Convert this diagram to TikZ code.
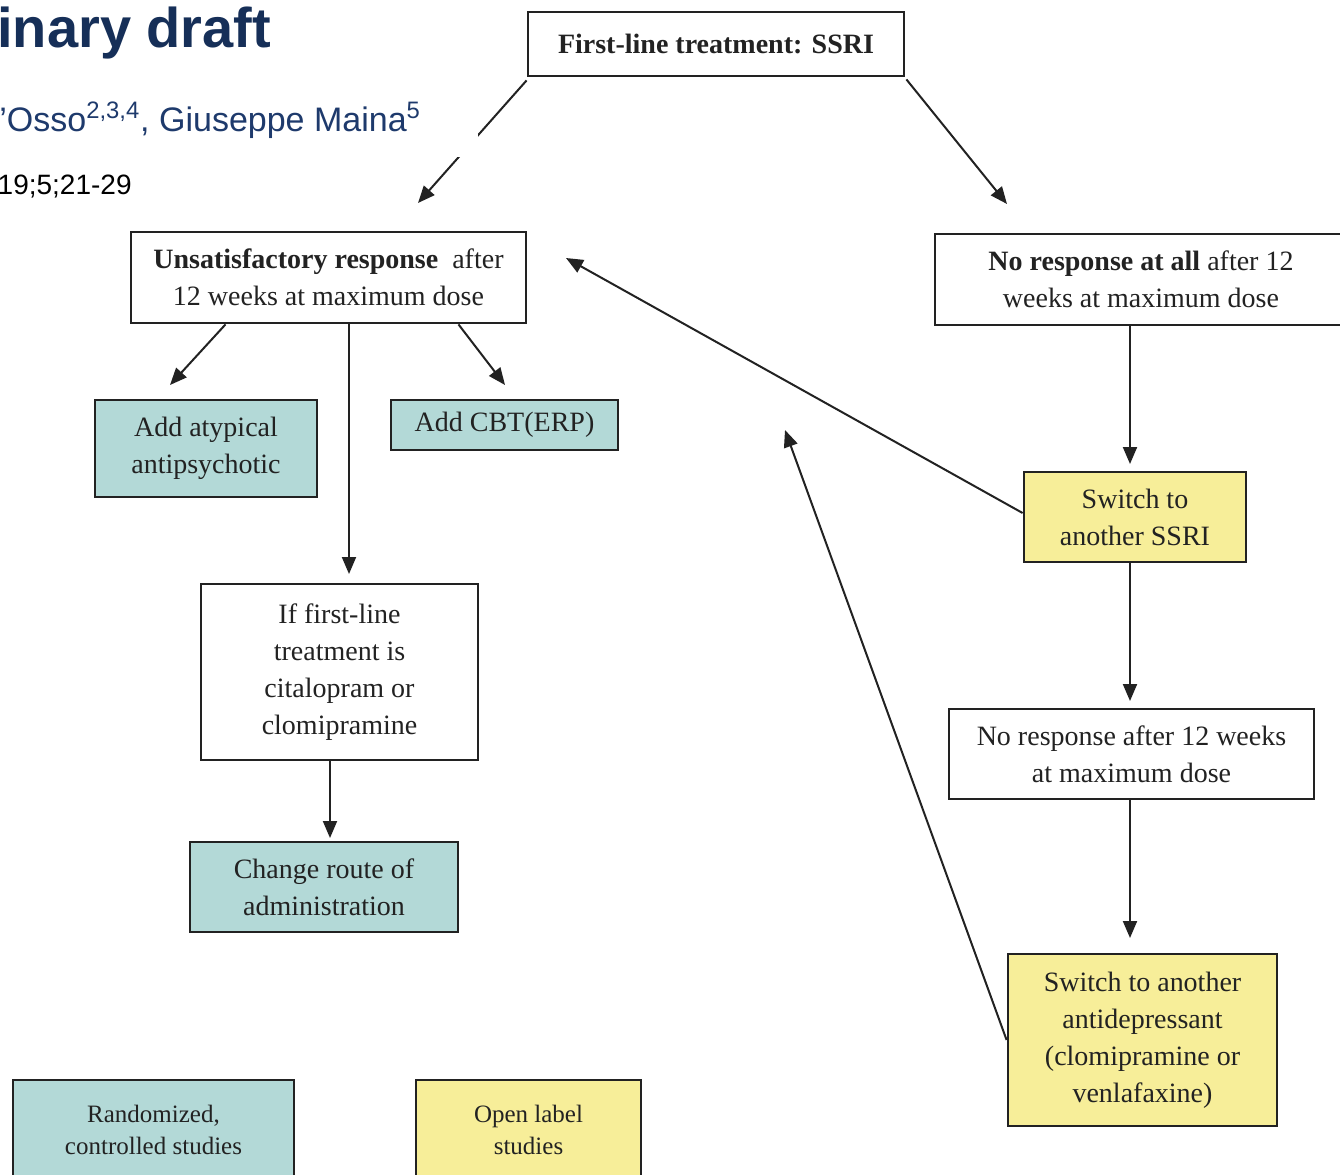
\documentclass[tikz,border=0pt]{standalone}
\usepackage{fontspec}
\setmainfont{Liberation Serif}
\newfontfamily\hdrsans{Liberation Sans}
\usetikzlibrary{arrows.meta,calc}

\definecolor{inkgray}{RGB}{34,34,34}
\definecolor{tealfill}{RGB}{179,217,215}
\definecolor{yellowfill}{RGB}{247,238,153}
\definecolor{navytitle}{RGB}{22,47,88}
\definecolor{authorblue}{RGB}{30,58,108}

\tikzset{
  flowbox/.style={draw=inkgray, line width=1.4pt, rectangle, inner sep=0pt,
    align=center, text=inkgray, font=\fontsize{14}{18.5}\selectfont},
  plainbox/.style={flowbox, fill=white},
  tealbox/.style={flowbox, fill=tealfill},
  yellowbox/.style={flowbox, fill=yellowfill},
  legendtext/.style={font=\fontsize{12.5}{16}\selectfont},
  flowarrow/.style={draw=inkgray, line width=1pt,
    -{Triangle[length=8.5pt,width=7pt]}},
}

\begin{document}
\begin{tikzpicture}[x=0.5pt,y=-0.5pt]
\useasboundingbox (0,0) rectangle (1340,1174);

% ---- boxes of the treatment algorithm
\node[plainbox, minimum width=188pt, minimum height=32pt] (first) at (716,44)
  {\textbf{First-line treatment: SSRI}};
\node[plainbox, minimum width=197.5pt, minimum height=45.5pt] (unsat) at (328.5,277.5)
  {\textbf{Unsatisfactory response}\ \ after\\12 weeks at maximum dose};
\node[plainbox, minimum width=206pt, minimum height=45.5pt] (noall) at (1141,279.5)
  {\textbf{No response at all} after 12\\weeks at maximum dose};
\node[tealbox, minimum width=111pt, minimum height=48.5pt] (atyp) at (206,448.5)
  {Add atypical\\antipsychotic};
\node[tealbox, minimum width=113.5pt, minimum height=25pt] (cbt) at (504.5,425)
  {Add CBT(ERP)};
\node[plainbox, minimum width=138.5pt, minimum height=88pt] (iffirst) at (339.5,672)
  {If first-line\\treatment is\\citalopram or\\clomipramine};
\node[tealbox, minimum width=134pt, minimum height=45pt] (route) at (324,887)
  {Change route of\\administration};
\node[yellowbox, minimum width=111pt, minimum height=45pt] (ssri) at (1135,517)
  {Switch to\\another SSRI};
\node[plainbox, minimum width=182.5pt, minimum height=45pt] (nr12) at (1131.5,754)
  {No response after 12 weeks\\at maximum dose};
\node[yellowbox, minimum width=134.5pt, minimum height=86pt] (alt) at (1142.5,1040)
  {Switch to another\\antidepressant\\(clomipramine or\\venlafaxine)};

% ---- legend (boxes run past the lower edge)
\node[tealbox, legendtext, minimum width=140.5pt, minimum height=50pt] (rct) at (153.5,1130)
  {Randomized,\\controlled studies};
\node[yellowbox, legendtext, minimum width=112.5pt, minimum height=50pt] (open) at (528.5,1130)
  {Open label\\studies};

% ---- arrow tips
\coordinate (tipA) at (418,203);
\coordinate (tipB) at (1007,204);
\coordinate (tipC) at (170,385);
\coordinate (tipD) at (505,385);
\coordinate (tipE) at (349,574);
\coordinate (tipF) at (330,838);
\coordinate (tipG) at (1130,464);
\coordinate (tipH) at (1130,701);
\coordinate (tipI) at (1130,938);
\coordinate (tipJ) at (566,258);
\coordinate (tipK) at (785,430);

% ---- connectors
\draw[flowarrow] ($(first.south west)+(0,3)$) -- (tipA);
\draw[flowarrow] ($(first.south east)+(1,2)$) -- (tipB);
\draw[flowarrow] ($(unsat.south)+(-103,0)$) -- (tipC);
\draw[flowarrow] ($(unsat.south)+(130,0)$) -- (tipD);
\draw[flowarrow] (unsat.south -| tipE) -- (tipE);
\draw[flowarrow] (iffirst.south -| tipF) -- (tipF);
\draw[flowarrow] (noall.south -| tipG) -- (tipG);
\draw[flowarrow] (ssri.south -| tipH) -- (tipH);
\draw[flowarrow] (nr12.south -| tipI) -- (tipI);
\draw[flowarrow] ($(ssri.west)+(0,-4)$) -- (tipJ);
\draw[flowarrow] (alt.west) -- (tipK);

% ---- page header strip (covers part of the first connector)
\fill[white] (0,0) rectangle (478,157);
\node[anchor=base west, inner sep=0pt, text=navytitle,
  font=\hdrsans\bfseries\fontsize{28}{30}\selectfont] (title) at (-3,47) {inary draft};
\node[anchor=base west, inner sep=0pt, text=authorblue,
  font=\hdrsans\fontsize{17}{20}\selectfont] (authors) at (-1,131)
  {’Osso\textsuperscript{2,3,4}, Giuseppe Maina\textsuperscript{5}};
\node[anchor=base east, inner sep=0pt, text=black,
  font=\hdrsans\fontsize{14}{16}\selectfont] (citation) at (132,194) {19;5;21-29};
\end{tikzpicture}
\end{document}
